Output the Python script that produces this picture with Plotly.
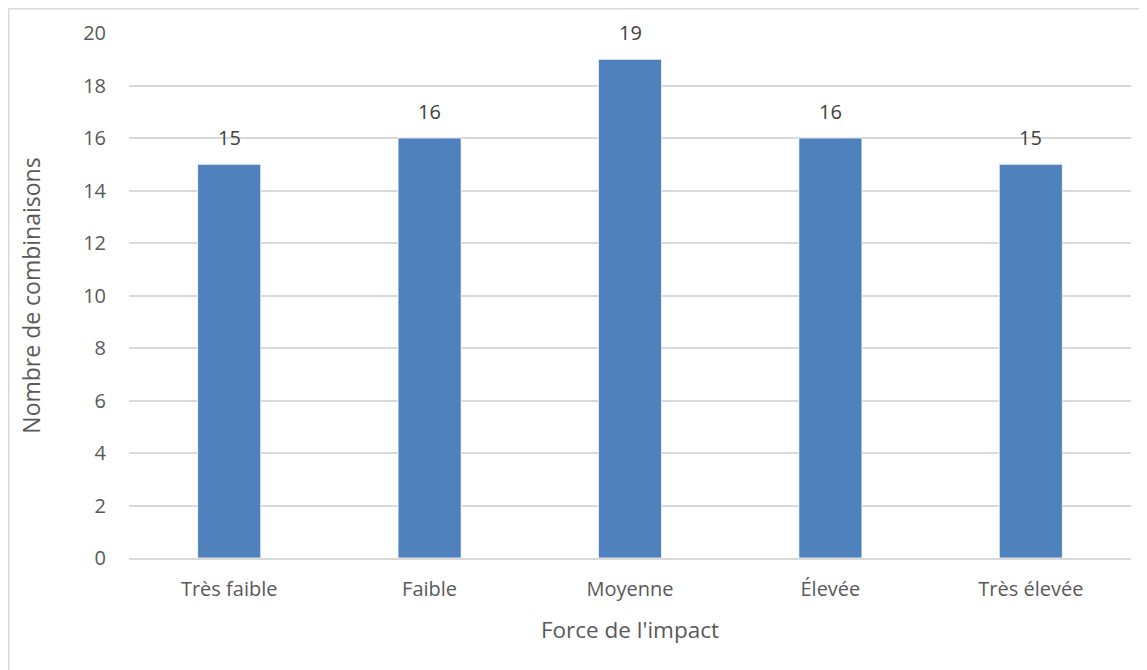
import plotly.graph_objects as go

categories = ["Très faible", "Faible", "Moyenne", "Élevée", "Très élevée"]
values = [15, 16, 19, 16, 15]
y_ticks = [0, 2, 4, 6, 8, 10, 12, 14, 16, 18, 20]

FONT = "Open Sans, Noto Sans, sans-serif"
TXT = "#595959"

fig = go.Figure()
fig.add_trace(go.Bar(
    x=categories, y=values,
    marker=dict(color="#4F81BD", line=dict(color="#FFFFFF", width=0.8)),
    hoverinfo="x+y",
))

for c, v in zip(categories, values):
    fig.add_annotation(x=c, y=v, text=str(v), showarrow=False,
                       yanchor="bottom", yshift=11,
                       font=dict(family=FONT, size=20, color="#404040"))

# page body has an 8px margin; positions below are in figure coordinates
W, H = 1147, 670
l, r, t, b = 121, 24, 25, 120
pw, ph = W - l - r, H - t - b

fig.add_shape(type="rect", xref="paper", yref="paper",
              x0=(0.75 - l) / pw, x1=(W + 40 - l) / pw,
              y0=-(H + 40 - t - ph) / ph, y1=(H - b - 0.75) / ph,
              line=dict(color="#D9D9D9", width=1.5), fillcolor="rgba(0,0,0,0)",
              layer="below")

fig.update_layout(
    width=W, height=H,
    margin=dict(l=l, r=r, t=t, b=b),
    paper_bgcolor="white", plot_bgcolor="white",
    bargap=0.685,
    showlegend=False,
    font=dict(family=FONT, size=20, color=TXT),
    xaxis=dict(
        title=dict(text="Force de l'impact", font=dict(size=22.5, color=TXT), standoff=21),
        tickfont=dict(size=20, color=TXT),
        ticks="outside", ticklen=12, tickcolor="rgba(0,0,0,0)",
        showline=True, linecolor="#D9D9D9", linewidth=1.5,
        showgrid=False,
    ),
    yaxis=dict(
        title=dict(text="Nombre de combinaisons", font=dict(size=23, color=TXT), standoff=36),
        range=[0, 20], tickvals=y_ticks,
        tickfont=dict(size=20, color=TXT),
        ticks="outside", ticklen=18, tickcolor="rgba(0,0,0,0)",
        showgrid=True, gridcolor="#D9D9D9", gridwidth=1.5,
        zeroline=False, showline=False,
    ),
)

fig.write_html("out.html")
